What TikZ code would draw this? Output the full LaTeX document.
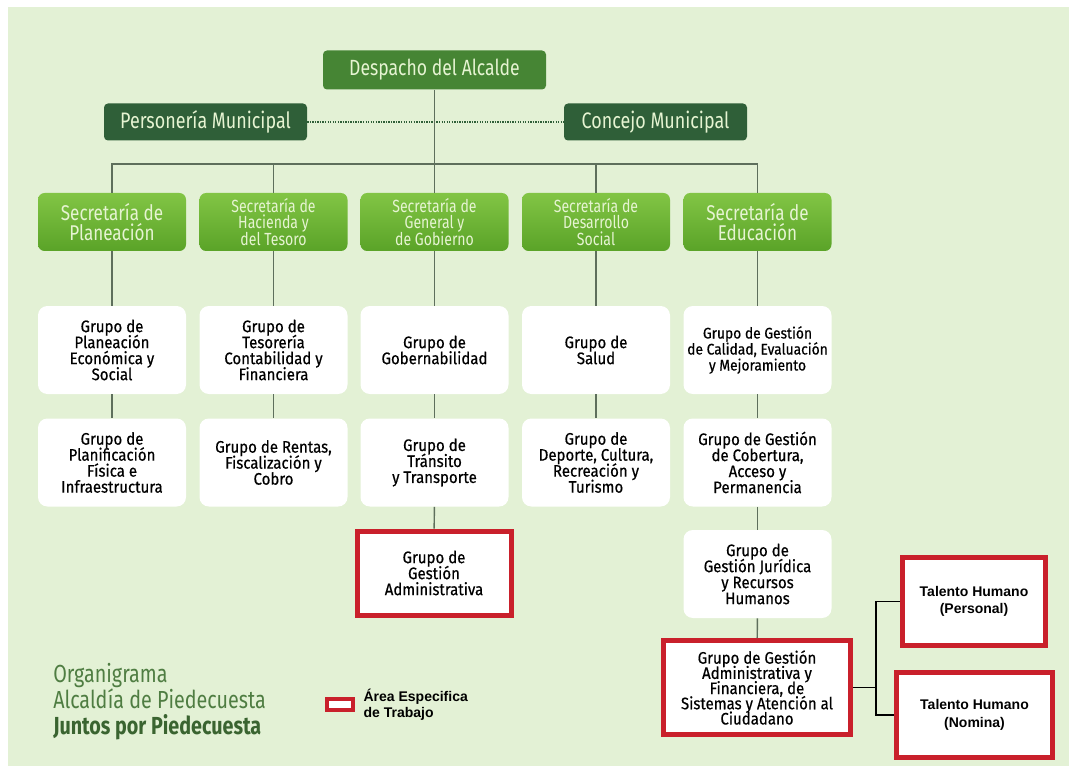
\documentclass[tikz,border=0pt]{standalone}
\usepackage{fontspec}
\setmainfont{Fira Sans}[FakeStretch=0.8]
\newfontfamily\grpfont{Fira Sans}[FakeStretch=0.9,FakeBold=0.5]
\newfontfamily\arialfont{Liberation Sans}
\usetikzlibrary{positioning}

\definecolor{bggreen}{HTML}{E3F1D5}
\definecolor{despgreen}{HTML}{468534}
\definecolor{sidegreen}{HTML}{2F5F38}
\definecolor{sectop}{HTML}{82C545}
\definecolor{secbot}{HTML}{5AA328}
\definecolor{sectext}{HTML}{E6F4D2}
\definecolor{lnkgray}{HTML}{5E6F5C}
\definecolor{redframe}{HTML}{C9202B}
\definecolor{titlegreen}{HTML}{4F7D42}
\definecolor{titledark}{HTML}{3A6430}

\newcommand\tightlines{\lineskiplimit=-8pt\relax}

\begin{document}
\begin{tikzpicture}[x=0.75pt, y=-0.75pt,
  topbox/.style={rectangle, rounded corners=3pt, fill=despgreen, text=sectext, inner sep=0pt,
    minimum width=167.25pt, minimum height=29.25pt, font=\fontsize{16.5}{17}\selectfont},
  sidebox/.style={rectangle, rounded corners=3pt, fill=sidegreen, text=sectext, inner sep=0pt,
    minimum height=27.75pt, font=\fontsize{16.8}{17}\selectfont},
  secbox/.style={rectangle, rounded corners=5pt, top color=sectop, bottom color=secbot, text=sectext,
    inner sep=0pt, align=center, minimum width=111pt, minimum height=43.5pt},
  sectwo/.style={secbox, font=\fontsize{16}{15}\selectfont\tightlines},
  secthree/.style={secbox, font=\fontsize{13.2}{12.4}\selectfont\tightlines},
  grpbox/.style={rectangle, rounded corners=7pt, fill=white, inner sep=0pt, align=center,
    minimum width=111pt, minimum height=66pt, font=\grpfont\fontsize{12.5}{12}\selectfont\tightlines},
  redbox/.style={rectangle, draw=redframe, line width=3.75pt, fill=white, inner sep=0pt, align=center,
    font=\grpfont\fontsize{12.5}{12}\selectfont\tightlines},
  talbox/.style={redbox, font=\arialfont\bfseries\fontsize{10.5}{13}\selectfont},
  lnk/.style={draw=lnkgray, line width=1.1pt},
  dotlnk/.style={draw=sidegreen, line width=1.2pt, dash pattern=on 1pt off 0.9pt},
  thlnk/.style={draw=black, line width=0.9pt},
  ttl/.style={anchor=base west, inner sep=0pt, text=titlegreen, font=\fontsize{18.5}{19}\selectfont}
]

% background
\fill[white] (0,0) rectangle (1069,766);
\fill[bggreen] (8,7) rectangle (1069,766);
\useasboundingbox (0,0) rectangle (1069,766);

% top level
\node[topbox] (desp) at (434.5,70) {Despacho del Alcalde};
\node[sidebox, minimum width=152.25pt] (pers) at (205.5,122) {Personería Municipal};
\node[sidebox, minimum width=137.25pt] (conc) at (655.5,122) {Concejo Municipal};

% secretarias
\node[sectwo] (sec1) at (112,222) {Secretaría de\\Planeación};
\node[secthree] (sec2) at (273.5,222) {Secretaría de\\Hacienda y\\del Tesoro};
\node[secthree] (sec3) at (434.5,222) {Secretaría de\\General y\\de Gobierno};
\node[secthree] (sec4) at (596,222) {Secretaría de\\Desarrollo\\Social};
\node[sectwo] (sec5) at (757.5,222) {Secretaría de\\Educación};

% grupos
\node[grpbox] (g11) at (112,350) {Grupo de\\Planeación\\Económica y\\Social};
\node[grpbox] (g12) at (112,462.5) {Grupo de\\Planificación\\Física e\\Infraestructura};
\node[grpbox] (g21) at (273.5,350) {Grupo de\\Tesorería\\Contabilidad y\\Financiera};
\node[grpbox] (g22) at (273.5,462.5) {Grupo de Rentas,\\Fiscalización y\\Cobro};
\node[grpbox] (g31) at (434.5,350) {Grupo de\\Gobernabilidad};
\node[grpbox] (g32) at (434.5,462.5) {Grupo de\\Tránsito\\y Transporte};
\node[redbox, minimum width=115.5pt, minimum height=63pt] (g33) at (434,573) {Grupo de\\Gestión\\Administrativa};
\node[grpbox] (g41) at (596,350) {Grupo de\\Salud};
\node[grpbox] (g42) at (596,462.5) {Grupo de\\Deporte, Cultura,\\Recreación y\\Turismo};
\node[grpbox, font=\grpfont\fontsize{11.5}{12}\selectfont\tightlines] (g51) at (757.5,350) {Grupo de Gestión\\de Calidad, Evaluación\\y Mejoramiento};
\node[grpbox] (g52) at (757.5,462.5) {Grupo de Gestión\\de Cobertura,\\Acceso y\\Permanencia};
\node[grpbox] (g53) at (757.5,574) {Grupo de\\Gestión Jurídica\\y Recursos\\Humanos};
\node[redbox, minimum width=140.25pt, minimum height=70.5pt, font=\grpfont\fontsize{12.5}{11.4}\selectfont\tightlines] (g54) at (757,687.5) {Grupo de Gestión\\Administrativa y\\Financiera, de\\Sistemas y Atención al\\Ciudadano};

% talento humano
\node[talbox, minimum width=107.25pt, minimum height=66pt] (thper) at (974,601.5) {Talento Humano\\(Personal)};
\node[talbox, minimum width=117pt, minimum height=63.75pt] (thnom) at (974.5,715) {Talento Humano\\(Nomina)};

% connectors
\coordinate (bus) at (434.5,164);
\draw[dotlnk] (pers) -- (conc);
\draw[lnk] (desp) -- (sec3);
\draw[lnk] (sec1.north) |- (bus) -| (sec5.north);
\draw[lnk] (sec2.north) |- (bus);
\draw[lnk] (sec4.north) |- (bus);
\draw[lnk] (sec1) -- (g11);
\draw[lnk] (g11) -- (g12);
\draw[lnk] (sec2) -- (g21);
\draw[lnk] (g21) -- (g22);
\draw[lnk] (sec3) -- (g31);
\draw[lnk] (g31) -- (g32);
\draw[lnk] (g32) -- (g33);
\draw[lnk] (sec4) -- (g41);
\draw[lnk] (g41) -- (g42);
\draw[lnk] (sec5) -- (g51);
\draw[lnk] (g51) -- (g52);
\draw[lnk] (g52) -- (g53);
\draw[lnk] (g53) -- (g54);
\coordinate (thbus) at (876,687.5);
\draw[thlnk] (g54) -- (thbus);
\draw[thlnk] (thper.west) -| (thbus) |- (thnom.west);

% title and legend
\node[ttl] (t1) at (53,682) {Organigrama};
\node[ttl] (t2) at (53,708) {Alcaldía de Piedecuesta};
\node[ttl, text=titledark, font=\bfseries\fontsize{18.5}{19}\selectfont] (t3) at (53,734) {Juntos por Piedecuesta};
\node[rectangle, draw=redframe, line width=3pt, fill=white, inner sep=0pt,
  minimum width=20pt, minimum height=8.5pt] (leg) at (340,704.5) {};
\node[anchor=west, inner sep=0pt, align=left, font=\arialfont\bfseries\fontsize{10.5}{12}\selectfont,
  right=6pt of leg] (legtxt) {Área Especifica\\de Trabajo};

\end{tikzpicture}
\end{document}
